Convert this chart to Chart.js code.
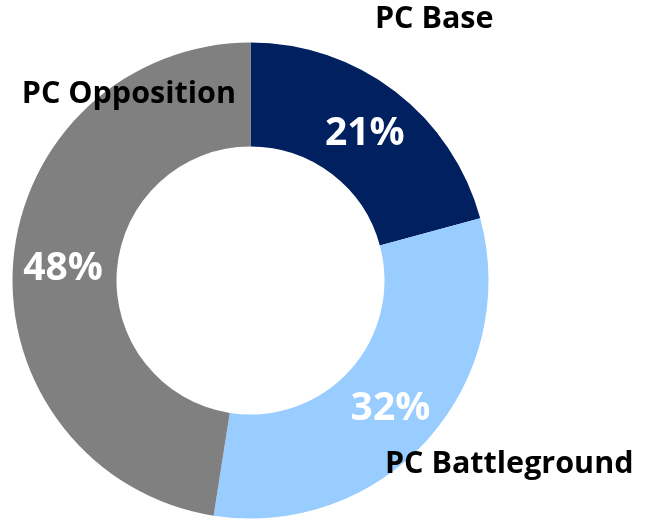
<!DOCTYPE html>
<html>
<head>
<meta charset="utf-8">
<script src="https://cdn.jsdelivr.net/npm/chart.js@4"></script>
<style>
html,body{margin:0;padding:0;background:#fff;}
#wrap{width:645px;height:526px;position:relative;}
</style>
</head>
<body>
<div id="wrap"><canvas id="c" width="645" height="526"></canvas></div>
<script>
const categories = ["PC Base", "PC Battleground", "PC Opposition"];
const values = [21, 32, 48];
const valueLabels = ["21%", "32%", "48%"];
const colors = ["#002060", "#99CCFF", "#808080"];

// category label anchors, relative to chart centre, in units of the outer radius
const catAnchors = [[0.772, -1.060], [1.087, 0.810], [-0.511, -0.745]];

const labelPlugin = {
  id: 'donutLabels',
  afterDatasetsDraw(chart) {
    const ctx = chart.ctx;
    const meta = chart.getDatasetMeta(0);
    ctx.save();
    ctx.textAlign = 'center';
    ctx.textBaseline = 'alphabetic';
    meta.data.forEach((arc, i) => {
      const p = arc.getProps(['x','y','startAngle','endAngle','innerRadius','outerRadius'], true);
      const mid = (p.startAngle + p.endAngle) / 2;
      const r = (p.innerRadius + p.outerRadius) / 2 + 2;
      const px = p.x + Math.cos(mid) * r;
      const py = p.y + Math.sin(mid) * r;
      ctx.fillStyle = '#ffffff';
      ctx.font = 'bold 39px "Open Sans"';
      ctx.fillText(valueLabels[i], px, py + 14);
      const a = catAnchors[i];
      ctx.fillStyle = '#000000';
      ctx.font = 'bold 30.5px "Open Sans"';
      ctx.fillText(categories[i], p.x + a[0] * p.outerRadius, p.y + a[1] * p.outerRadius);
    });
    ctx.restore();
  }
};

new Chart(document.getElementById('c'), {
  type: 'doughnut',
  data: {
    labels: categories,
    datasets: [{
      data: values,
      backgroundColor: colors,
      borderWidth: 0,
      hoverOffset: 0
    }]
  },
  options: {
    responsive: false,
    animation: false,
    cutout: '56.3%',
    layout: { padding: { left: 12.5, right: 156.5, top: 42.5, bottom: 7.5 } },
    plugins: {
      legend: { display: false },
      tooltip: { enabled: false }
    }
  },
  plugins: [labelPlugin]
});
</script>
</body>
</html>
